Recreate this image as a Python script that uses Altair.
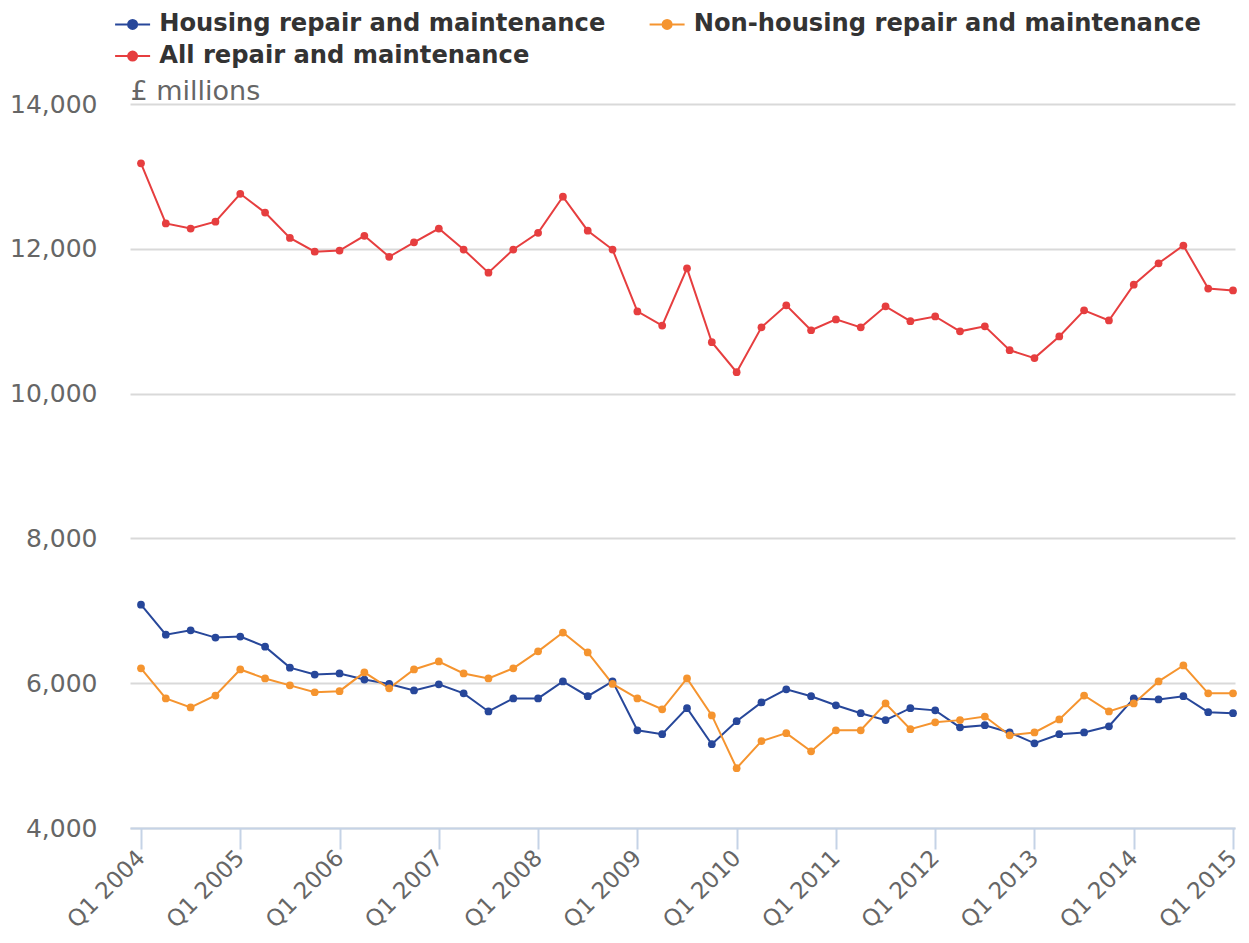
import altair as alt
import pandas as pd

quarter_index = list(range(45))

housing = [7085, 6670, 6730, 6630, 6645, 6505, 6215, 6120, 6135, 6050, 5990, 5900,
           5985, 5860, 5610, 5790, 5790, 6025, 5820, 6025, 5350, 5295, 5655, 5157,
           5475, 5735, 5915, 5820, 5695, 5585, 5490, 5655, 5625, 5390, 5420, 5320,
           5170, 5295, 5320, 5405, 5790, 5775, 5820, 5600, 5585]

non_housing = [6205, 5790, 5665, 5830, 6190, 6065, 5970, 5875, 5890, 6150, 5930, 6190,
               6300, 6135, 6065, 6205, 6440, 6700, 6425, 5990, 5790, 5640, 6065, 5555,
               4826, 5200, 5310, 5060, 5350, 5350, 5720, 5365, 5460, 5490, 5540, 5280,
               5320, 5500, 5830, 5610, 5720, 6025, 6245, 5860, 5860]

all_rm = [13180, 12350, 12280, 12375, 12760, 12500, 12150, 11960, 11975, 12180, 11890, 12090,
          12280, 11990, 11670, 11990, 12220, 12720, 12250, 11990, 11135, 10940, 11730, 10710,
          10295, 10915, 11220, 10875, 11025, 10915, 11205, 11000, 11065, 10860, 10930, 10600,
          10490, 10790, 11150, 11010, 11505, 11800, 12045, 11450, 11425]

# legend fills column by column: Housing / All in the first column
series_names = ["Housing repair and maintenance",
                "All repair and maintenance",
                "Non-housing repair and maintenance"]
series_colors = ["#27479a", "#e63e3f", "#f5942f"]

x_ticks = [0, 4, 8, 12, 16, 20, 24, 28, 32, 36, 40, 44]
y_ticks = [4000, 6000, 8000, 10000, 12000, 14000]

rows = []
for name, vals in zip(["Housing repair and maintenance",
                       "Non-housing repair and maintenance",
                       "All repair and maintenance"],
                      [housing, non_housing, all_rm]):
    for q, v in zip(quarter_index, vals):
        rows.append({"q": q, "value": v, "series": name})
df = pd.DataFrame(rows)

symbol_path = ("M-3.5,0L3.5,0M-0.9,0A0.9,0.9,0,1,0,0.9,0"
               "A0.9,0.9,0,1,0,-0.9,0Z")

color = alt.Color(
    "series:N",
    scale=alt.Scale(domain=series_names, range=series_colors),
    legend=alt.Legend(
        title=None,
        orient="none",
        legendX=-9.5,
        legendY=-92,
        columns=2,
        columnPadding=39.5,
        rowPadding=7,
        padding=0,
        symbolType=symbol_path,
        symbolSize=100,
        symbolStrokeWidth=2,
        labelFont="DejaVu Sans",
        labelFontWeight="bold",
        labelFontSize=24.2,
        labelColor="#333333",
        labelOffset=14.5,
        labelLimit=700,
    ),
)

x = alt.X(
    "q:Q",
    scale=alt.Scale(domain=[-0.443, 44.08], nice=False, zero=False),
    axis=alt.Axis(
        values=x_ticks,
        labelExpr="'Q1 ' + (2004 + datum.value / 4)",
        labelAngle=-45,
        labelAlign="right",
        labelBaseline="middle",
        labelFont="DejaVu Sans",
        labelFontSize=23,
        labelColor="#666666",
        labelPadding=5,
        domainColor="#c5d3e6",
        domainWidth=2,
        tickColor="#c5d3e6",
        tickWidth=2,
        tickSize=21,
        grid=False,
        title=None,
    ),
)

y = alt.Y(
    "value:Q",
    scale=alt.Scale(domain=[4000, 14000], nice=False, zero=False),
    axis=alt.Axis(
        values=y_ticks,
        format=",.0f",
        labelFont="DejaVu Sans",
        labelFontSize=25,
        labelColor="#666666",
        labelPadding=33,
        domain=False,
        ticks=False,
        grid=True,
        gridColor="#d9d9d9",
        gridWidth=2,
        title="£ millions",
        titleAngle=0,
        titleX=0,
        titleY=1,
        titleAlign="left",
        titleBaseline="bottom",
        titleFont="DejaVu Sans",
        titleFontSize=27,
        titleFontWeight="normal",
        titleColor="#666666",
    ),
)

base = alt.Chart(df).encode(x=x, y=y, color=color)
lines = base.mark_line(strokeWidth=2)
points = base.mark_circle(size=60, opacity=1)

chart = (
    alt.layer(lines, points)
    .properties(
        width=1105,
        height=724,
        autosize=alt.AutoSizeParams(type="none"),
        padding={"left": 122, "top": 96, "right": 6, "bottom": 107},
    )
    .configure_view(stroke=None)
)

chart.save("out.html", embed_options={"renderer": "svg", "actions": False})
